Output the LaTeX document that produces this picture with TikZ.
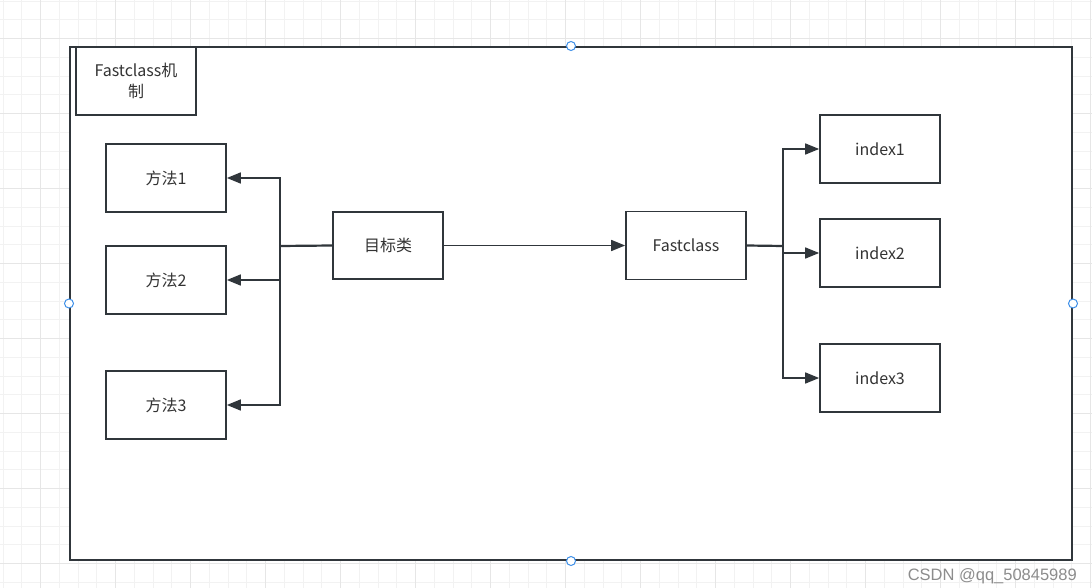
\documentclass[tikz,border=0pt]{standalone}
\usepackage{fontspec}
\setmainfont{Noto Sans CJK SC}
\newfontfamily\wmfont{Liberation Sans}
\usetikzlibrary{arrows.meta}
\definecolor{edge}{HTML}{30363B}
\definecolor{gridlight}{HTML}{F2F2F2}
\definecolor{griddark}{HTML}{E6E6E6}
\definecolor{handle}{HTML}{3D8FE8}
\tikzset{>/.tip={Triangle[length=14pt,width=11pt]},
  box/.style={draw=edge, line width=1.7pt, minimum width=120pt, minimum height=68pt,
    inner sep=0pt, text=black!80, font=\fontsize{16}{21}\selectfont},
  link/.style={draw=edge, line width=1.6pt}}

\begin{document}
\begin{tikzpicture}[x=1pt,y=-1pt]
\useasboundingbox (0,0) rectangle (1092,588);
% background grid
\foreach \gx in {3.2,21.95,...,1092} \draw[gridlight, line width=1pt] (\gx,0) -- (\gx,588);
\foreach \gy in {1.2,19.95,...,588} \draw[gridlight, line width=1pt] (0,\gy) -- (1092,\gy);
\foreach \gx in {40.7,115.7,...,1092} \draw[griddark, line width=1pt] (\gx,0) -- (\gx,588);
\foreach \gy in {38.7,113.7,...,588} \draw[griddark, line width=1pt] (0,\gy) -- (1092,\gy);

\node[draw=edge, line width=2pt, fill=white, minimum width=1002pt, minimum height=513pt, inner sep=0pt] (frame) at (571,303.5) {};
\node[box, align=center] (title) at (136,81) {Fastclass机\\制};

\node[box] (m1) at (166,178) {方法1};
\node[box] (m2) at (166,280) {方法2};
\node[box] (m3) at (166,405) {方法3};
\node[box, minimum width=110pt, minimum height=67pt] (target) at (388,245.5) {目标类};
\node[box] (fc) at (686,245.5) {Fastclass};
\node[box] (i1) at (880,149) {index1};
\node[box] (i2) at (880,253) {index2};
\node[box] (i3) at (880,378) {index3};

\coordinate (lsplit) at (280,246);
\coordinate (rsplit) at (783,246);
\draw[link, line width=2.2pt] (target.west) -- (lsplit);
\foreach \m in {m1,m2,m3}
{
  \draw[link, ->] (lsplit) |- (\m.east);
}
\draw[link, ->] (target.east) -- (fc.west);
\draw[link, line width=2.2pt] (fc.east) -- (rsplit);
\foreach \i in {i1,i2,i3}
{
  \draw[link, ->] (rsplit) |- (\i.west);
}

\foreach \a in {north,south,west,east}
  \draw[handle, fill=white, line width=1pt] (frame.\a) circle (4.5pt);

\node[anchor=base east, inner sep=0pt, text=black!45, font=\wmfont\fontsize{16.5}{19}\selectfont] (mark) at (1077,580) {CSDN @qq\_50845989};
\end{tikzpicture}
\end{document}
